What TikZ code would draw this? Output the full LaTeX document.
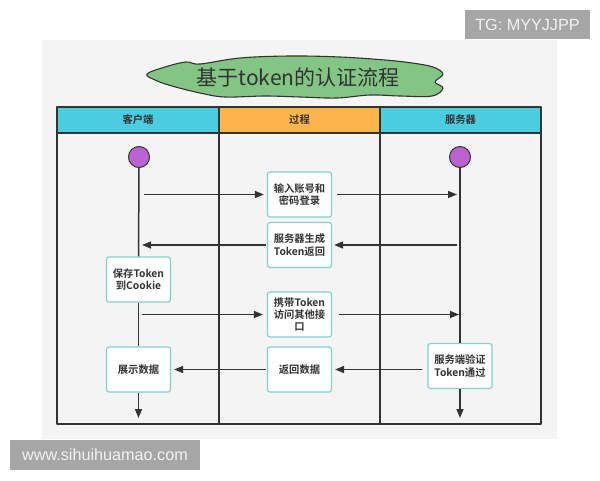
\documentclass[tikz,border=0pt]{standalone}
\usepackage{fontspec}
\setmainfont{Liberation Sans}
\newfontfamily\cjk[BoldFont={Noto Sans CJK SC Bold}]{Noto Sans CJK SC}
\usetikzlibrary{arrows.meta}
\definecolor{linec}{HTML}{333333}
\definecolor{txt}{HTML}{333333}
\definecolor{panel}{HTML}{F4F4F4}
\definecolor{hcyan}{HTML}{4BCDE0}
\definecolor{horange}{HTML}{FDB44B}
\definecolor{purp}{HTML}{BA62CF}
\definecolor{boxb}{HTML}{86CFCB}
\definecolor{cloudg}{HTML}{82C584}
\definecolor{wm}{HTML}{A6A6A6}
\begin{document}
\begin{tikzpicture}[x=1pt,y=-1pt,line join=round,
  lane/.style={draw=linec,line width=1.5pt},
  hdr/.style={font=\cjk\bfseries\fontsize{10.3}{12}\selectfont,text=txt},
  pbox/.style={draw=boxb,fill=white,rounded corners=2.5pt,line width=1.2pt,
    minimum width=64pt,minimum height=45pt,align=center,inner sep=1pt,
    font=\cjk\bfseries\fontsize{10.3}{12.4}\selectfont,text=txt},
  startc/.style={circle,fill=purp,draw=linec,line width=1pt,minimum size=21pt,inner sep=0pt},
  arr/.style={draw=linec,line width=1.5pt,-{Triangle[length=9pt,width=7pt]}},
  life/.style={draw=linec,line width=1.5pt},
  wmbox/.style={fill=wm,inner sep=0pt,text=white!95!black,font=\fontsize{16.2}{16}\selectfont}]
\useasboundingbox (0,0) rectangle (600,480);
\fill[white] (0,0) rectangle (600,480);
\fill[panel] (42,40) rectangle (557,439);
% title cloud
\filldraw[fill=cloudg,draw=linec,line width=1.1pt]
  plot[smooth cycle,tension=0.6] coordinates {
   (147,74) (165,67) (186,62) (200,64) (240,58) (290,56) (340,57) (385,60)
   (412,63) (433,67) (443,74) (435,82) (443,88) (432,96) (400,96) (370,95)
   (337,98) (300,97) (265,96) (225,97) (200,93) (172,86) (155,80)};
\node[font=\cjk\fontsize{21}{21}\selectfont,text=txt] (title) at (298,77) {基于token的认证流程};
% table
\fill[hcyan] (57,107) rectangle (219,133);
\fill[horange] (219,107) rectangle (380,133);
\fill[hcyan] (380,107) rectangle (541,133);
\draw[lane] (57,107) rectangle (541,424);
\draw[lane] (57,133) -- (541,133);
\draw[lane] (219,107) -- (219,424);
\draw[lane] (380,107) -- (380,424);
\node[hdr] (h1) at (138,120) {客户端};
\node[hdr] (h2) at (299.5,120) {过程};
\node[hdr] (h3) at (460.5,120) {服务器};
% start circles
\node[startc] (s1) at (139,157) {};
\node[startc] (s2) at (460,157) {};
% boxes
\node[pbox] (b1) at (299.5,194.5) {输入账号和\\密码登录};
\node[pbox] (b2) at (299.5,245) {服务器生成\\Token返回};
\node[pbox] (b3) at (138.5,279.5) {保存Token\\到Cookie};
\node[pbox] (b4) at (299.5,314.5) {携带Token\\访问其他接\\口};
\node[pbox] (b5) at (138.5,369.5) {展示数据};
\node[pbox] (b6) at (299.5,369.5) {返回数据};
\node[pbox] (b7) at (460,366) {服务端验证\\Token通过};
% lifelines
\draw[life] (s1.south) -- (b3.north);
\draw[life] (b3.south) -- (b5.north);
\draw[life] (s2.south) -- (b7.north);
% free-end coordinates
\coordinate (cA) at (144,194.5);
\coordinate (sA) at (460,194.5);
\coordinate (sB) at (457,245);
\coordinate (cB) at (139,245);
\coordinate (cC) at (142,314.5);
\coordinate (sC) at (460,314.5);
\coordinate (e1) at (138.5,418);
\coordinate (e2) at (460,418);
% arrows
\draw[arr,shorten >=3pt] (cA) -- (b1.west);
\draw[arr,shorten <=5pt,shorten >=3pt] (b1.east) -- (sA);
\draw[arr,shorten >=2pt] (sB) -- (b2.east);
\draw[arr,shorten <=1pt,shorten >=3pt] (b2.west) -- (cB);
\draw[arr,shorten >=4pt] (cC) -- (b4.west);
\draw[arr,shorten <=7pt,shorten >=1pt] (b4.east) -- (sC);
\draw[arr,shorten <=5pt,shorten >=3pt] (b7.west |- b6.east) -- (b6.east);
\draw[arr,shorten <=1pt,shorten >=3pt] (b6.west) -- (b5.east);
\draw[arr] (b5.south) -- (e1);
\draw[arr] (b7.south) -- (e2);
% watermarks
\node[wmbox,minimum width=125pt,minimum height=29pt] (tg) at (527.5,24.5) {TG: MYYJJPP};
\node[wmbox,minimum width=190pt,minimum height=30pt] (www) at (105,455) {www.sihuihuamao.com};
\end{tikzpicture}
\end{document}
